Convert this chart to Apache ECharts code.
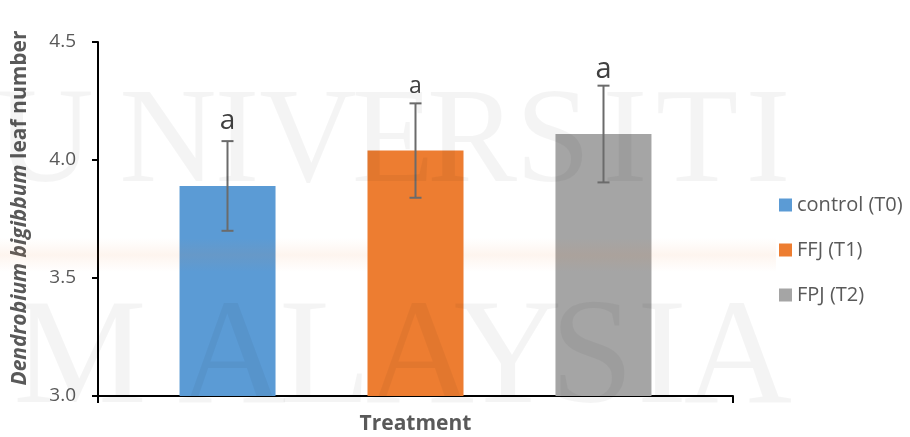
<!DOCTYPE html>
<html>
<head>
<meta charset="utf-8">
<script src="https://cdn.jsdelivr.net/npm/echarts@6/dist/echarts.min.js"></script>
<style>
  html, body { margin: 0; padding: 0; background: #ffffff; }
  #chart { width: 910px; height: 437px; }
</style>
</head>
<body>
<div id="chart"></div>
<script>
// Leaf number of Dendrobium bigibbum per treatment (mean ± error)
const categories = ['Treatment'];
const seriesNames = ['control (T0)', 'FFJ (T1)', 'FPJ (T2)'];
const meanLeafNumber = [3.89, 4.04, 4.11];
const errorValues = [0.19, 0.20, 0.205];
const significanceLetters = ['a', 'a', 'a'];
const yTicks = [3.0, 3.5, 4.0, 4.5];

// Styling
const FONT = '"Open Sans", "Noto Sans", sans-serif';
const TEXT_GRAY = '#595959';
const BAR_COLORS = ['#5B9BD5', '#ED7D31', '#A5A5A5'];
const BAR_WIDTH = 96;
const BAR_GAP_PX = 92;
const LETTER_SIZES = [28, 23, 29];
const LETTER_LIFT = [6, 5, 1];

const chart = echarts.init(document.getElementById('chart'), null, { renderer: 'canvas' });

const barSeries = seriesNames.map((name, i) => ({
  type: 'bar',
  name: name,
  data: [meanLeafNumber[i]],
  barWidth: BAR_WIDTH,
  barGap: (BAR_GAP_PX / BAR_WIDTH * 100).toFixed(1) + '%',
  itemStyle: { color: BAR_COLORS[i] },
  emphasis: { disabled: true },
  z: 2
}));

const errorSeries = {
  type: 'custom',
  name: 'error',
  z: 5,
  silent: true,
  encode: { x: 0, y: 1 },
  data: meanLeafNumber.map((m, i) => [0, m, errorValues[i], i]),
  renderItem: function (params, api) {
    const idx = api.value(3);
    const mean = api.value(1);
    const err = api.value(2);
    const offset = (idx - (seriesNames.length - 1) / 2) * (BAR_WIDTH + BAR_GAP_PX);
    const top = api.coord([0, mean + err]);
    const bottom = api.coord([0, mean - err]);
    const x = top[0] + offset;
    const capHalf = 6;
    const lineStyle = { stroke: '#6b6b6b', lineWidth: 2 };
    return {
      type: 'group',
      children: [
        { type: 'line', shape: { x1: x, y1: top[1], x2: x, y2: bottom[1] }, style: lineStyle },
        { type: 'line', shape: { x1: x - capHalf, y1: top[1], x2: x + capHalf, y2: top[1] }, style: lineStyle },
        { type: 'line', shape: { x1: x - capHalf, y1: bottom[1], x2: x + capHalf, y2: bottom[1] }, style: lineStyle },
        {
          type: 'text',
          x: x,
          y: top[1] - LETTER_LIFT[idx],
          style: {
            text: significanceLetters[idx],
            fontSize: LETTER_SIZES[idx],
            fontFamily: FONT,
            fill: '#404040',
            align: 'center',
            verticalAlign: 'bottom'
          }
        }
      ]
    };
  }
};

// Faint institutional watermark drawn over the plot
const wmTop = 'UNIVERSITI'.split('');
const wmTopX = [45, 168, 237, 308, 393, 472, 553, 625, 697, 768];
const wmBottom = 'MALAYSIA'.split('');
const wmBottomX = [80, 232, 325, 420, 508, 592, 662, 738];
const watermark = [];
wmTop.forEach((ch, i) => watermark.push({
  type: 'text', silent: true, z: 100,
  x: wmTopX[i], y: 78,
  style: { text: ch, fontSize: 135, fontFamily: '"Liberation Serif", serif', fill: 'rgba(0,0,0,0.042)', align: 'center', verticalAlign: 'top' }
}));
wmBottom.forEach((ch, i) => watermark.push({
  type: 'text', silent: true, z: 100,
  x: wmBottomX[i], y: 288,
  style: { text: ch, fontSize: 150, fontFamily: '"Liberation Serif", serif', fill: 'rgba(0,0,0,0.042)', align: 'center', verticalAlign: 'top' }
}));
watermark.push({
  type: 'rect', silent: true, z: 100,
  shape: { x: 0, y: 238, width: 776, height: 34 },
  style: {
    fill: new echarts.graphic.LinearGradient(0, 0, 0, 1, [
      { offset: 0, color: 'rgba(237,125,49,0)' },
      { offset: 0.5, color: 'rgba(237,125,49,0.08)' },
      { offset: 1, color: 'rgba(237,125,49,0)' }
    ])
  }
});

chart.setOption({
  animation: false,
  backgroundColor: '#ffffff',
  textStyle: { fontFamily: FONT },
  grid: { left: 98, right: 177, top: 42, bottom: 41, containLabel: false },
  legend: {
    data: seriesNames,
    orient: 'vertical',
    left: 774,
    top: 189,
    icon: 'rect',
    itemWidth: 13,
    itemHeight: 13,
    itemGap: 23,
    selectedMode: false,
    textStyle: { color: TEXT_GRAY, fontSize: 20, lineHeight: 22, fontFamily: FONT }
  },
  xAxis: {
    type: 'category',
    data: categories,
    axisLine: { lineStyle: { color: '#000000', width: 2 } },
    axisTick: { show: true, length: 7, lineStyle: { color: '#000000', width: 2 } },
    axisLabel: { color: TEXT_GRAY, fontSize: 21, fontWeight: 'bold', margin: 18, fontFamily: FONT }
  },
  yAxis: {
    type: 'value',
    min: yTicks[0],
    max: yTicks[yTicks.length - 1],
    interval: yTicks[1] - yTicks[0],
    axisLine: { show: true, lineStyle: { color: '#000000', width: 2 } },
    axisTick: { show: true, length: 6, lineStyle: { color: '#000000', width: 2 } },
    splitLine: { show: false },
    axisLabel: { color: TEXT_GRAY, fontSize: 19, margin: 22, fontFamily: FONT, formatter: v => v.toFixed(1) }
  },
  graphic: [
    {
      type: 'text',
      x: 20,
      y: 208,
      rotation: Math.PI / 2,
      silent: true,
      style: {
        text: '{i|Dendrobium bigibbum }{n|leaf number}',
        align: 'center',
        verticalAlign: 'middle',
        rich: {
          i: { fontSize: 21, fontWeight: 'bold', fontStyle: 'italic', fontFamily: FONT, fill: TEXT_GRAY },
          n: { fontSize: 21, fontWeight: 'bold', fontFamily: FONT, fill: TEXT_GRAY }
        }
      }
    }
  ].concat(watermark),
  series: barSeries.concat([errorSeries])
});
</script>
</body>
</html>
